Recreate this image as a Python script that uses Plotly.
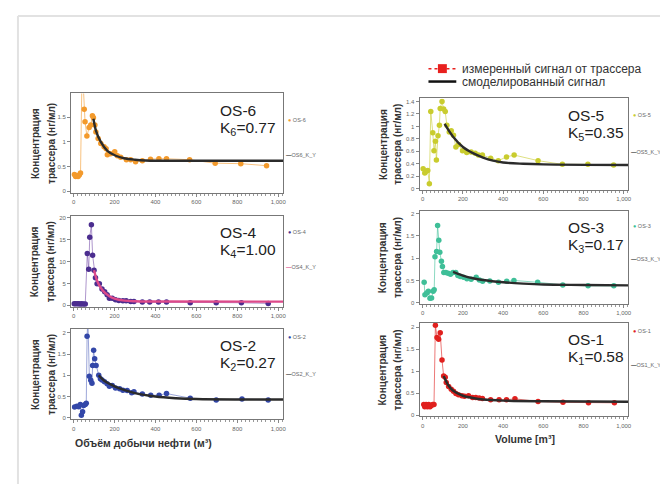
import plotly.graph_objects as go

W, H = 668, 484

# ---------------- data ----------------
# OS-6
os6_x = [4, 10, 16, 22, 28, 34, 42, 52, 56, 65, 76, 84, 92, 97, 104, 109, 120, 133, 149, 159, 165, 181, 201, 214, 230, 258, 279, 303, 336, 376, 417, 454, 567, 692, 817, 943]
os6_y = [0.34, 0.30, 0.32, 0.30, 0.33, 0.37, 2.6, 1.66, 1.41, 1.12, 1.29, 1.34, 1.53, 1.49, 1.34, 1.20, 1.07, 0.97, 0.90, 0.86, 0.74, 0.76, 0.80, 0.72, 0.69, 0.64, 0.64, 0.60, 0.62, 0.65, 0.66, 0.66, 0.64, 0.57, 0.56, 0.52]
os6_mx = [97, 110, 133, 165, 206, 246, 300, 350, 450, 1025]
os6_my = [1.47, 1.22, 1.00, 0.82, 0.72, 0.67, 0.64, 0.625, 0.62, 0.62]

# OS-4
os4_x = [3, 10, 18, 25, 33, 40, 48, 57, 67, 74, 79, 87, 93, 100, 107, 115, 126, 139, 152, 164, 175, 189, 205, 221, 241, 257, 279, 295, 336, 372, 415, 454, 570, 697, 820, 951]
os4_y = [0.35, 0.35, 0.35, 0.35, 0.3, 0.35, 0.3, 0.3, 11.8, 8.2, 15.5, 18.35, 11.4, 8.0, 6.3, 4.9, 4.9, 3.75, 3.1, 2.4, 1.65, 1.65, 1.3, 1.1, 1.05, 1.05, 0.9, 0.9, 0.75, 0.75, 0.75, 0.75, 0.6, 0.6, 0.6, 0.45]
os4_mx = [100, 115, 130, 150, 175, 200, 250, 300, 400, 1025]
os4_my = [8.0, 5.6, 4.2, 3.0, 2.1, 1.55, 1.08, 0.93, 0.87, 0.86]

# OS-2
os2_x = [5, 16, 25, 33, 38, 44, 49, 57, 62, 66, 70, 77, 84, 90, 93, 98, 103, 110, 123, 131, 139, 151, 164, 175, 189, 205, 225, 241, 262, 284, 295, 336, 377, 418, 454, 570, 697, 823, 951]
os2_y = [0.25, 0.27, 0.26, 0.31, 0.06, 0.14, 0.29, 0.31, 0.34, 1.92, 2.3, 0.98, 0.88, 0.81, 1.23, 1.59, 1.39, 1.23, 1.0, 0.92, 0.89, 0.85, 0.80, 0.74, 0.76, 0.70, 0.68, 0.65, 0.64, 0.59, 0.61, 0.56, 0.53, 0.53, 0.57, 0.46, 0.42, 0.44, 0.42]
os2_mx = [123, 150, 200, 250, 300, 400, 500, 600, 800, 1025]
os2_my = [1.0, 0.87, 0.74, 0.65, 0.58, 0.50, 0.46, 0.44, 0.43, 0.43]

# OS-5
os5_x = [2, 10, 17, 25, 33, 40, 50, 56, 63, 68, 76, 83, 87, 96, 104, 112, 120, 132, 142, 153, 165, 178, 198, 219, 241, 261, 277, 297, 338, 376, 417, 455, 574, 695, 822, 950]
os5_y = [0.32, 0.25, 0.28, 0.29, 0.08, 1.24, 0.90, 0.61, 0.76, 0.46, 0.85, 1.02, 1.29, 1.40, 1.28, 1.24, 1.02, 0.91, 0.93, 0.86, 0.67, 0.71, 0.61, 0.58, 0.59, 0.57, 0.54, 0.54, 0.49, 0.45, 0.51, 0.54, 0.45, 0.39, 0.39, 0.38]
os5_mx = [109, 150, 200, 250, 300, 350, 400, 500, 600, 1025]
os5_my = [1.04, 0.84, 0.67, 0.57, 0.50, 0.45, 0.42, 0.40, 0.39, 0.38]

# OS-3
os3_x = [7, 11, 20, 28, 36, 44, 52, 57, 61, 69, 74, 80, 85, 93, 98, 105, 115, 126, 138, 151, 164, 175, 187, 203, 220, 241, 266, 282, 298, 334, 377, 418, 454, 572, 697, 823, 951]
os3_y = [0.46, 0.18, 0.22, 0.26, 0.10, 0.11, 0.26, 0.29, 1.03, 1.15, 1.73, 1.40, 1.13, 0.93, 0.81, 0.68, 0.68, 0.66, 0.64, 0.68, 0.68, 0.61, 0.59, 0.57, 0.54, 0.53, 0.57, 0.51, 0.48, 0.49, 0.46, 0.48, 0.50, 0.46, 0.40, 0.38, 0.38]
os3_mx = [151, 200, 250, 300, 400, 500, 600, 800, 1025]
os3_my = [0.69, 0.61, 0.55, 0.51, 0.46, 0.43, 0.41, 0.40, 0.39]

# OS-1
os1_x = [5, 10, 17, 23, 30, 36, 43, 50, 56, 63, 71, 79, 87, 96, 104, 112, 117, 129, 142, 153, 165, 178, 195, 208, 228, 248, 264, 281, 297, 338, 380, 417, 459, 574, 698, 825, 954]
os1_y = [0.24, 0.19, 0.24, 0.19, 0.24, 0.19, 0.22, 0.24, 0.24, 2.04, 1.76, 1.72, 1.87, 1.25, 0.89, 0.86, 0.74, 0.65, 0.59, 0.54, 0.49, 0.46, 0.44, 0.43, 0.44, 0.40, 0.40, 0.39, 0.38, 0.35, 0.35, 0.35, 0.37, 0.31, 0.29, 0.28, 0.28]
os1_mx = [104, 130, 150, 200, 250, 300, 400, 600, 1025]
os1_my = [0.89, 0.66, 0.56, 0.44, 0.39, 0.355, 0.33, 0.315, 0.305]

names = ["OS-6", "OS-4", "OS-2", "OS-5", "OS-3", "OS-1"]
model_names = ["OS6_K_Y", "OS4_K_Y", "OS2_K_Y", "OS5_K_Y", "OS3_K_Y", "OS1_K_Y"]
k_labels = ["K<sub>6</sub>=0.77", "K<sub>4</sub>=1.00", "K<sub>2</sub>=0.27",
            "K<sub>5</sub>=0.35", "K<sub>3</sub>=0.17", "K<sub>1</sub>=0.58"]
y_ticks = [[0, 0.5, 1, 1.5], [0, 5, 10, 15, 20], [0, 0.5, 1, 1.5, 2],
           [0, 0.2, 0.4, 0.6, 0.8, 1, 1.2, 1.4], [0, 0.5, 1, 1.5, 2], [0, 0.5, 1, 1.5, 2]]
y_ranges = [[-0.03, 1.98], [-0.4, 20.4], [-0.04, 2.09], [-0.02, 1.45], [-0.03, 2.06], [-0.03, 2.09]]
x_ticks = [0, 200, 400, 600, 800, 1000]
x_tick_text = ["0", "200", "400", "600", "800", "1,000"]
legend_labels = ["измеренный сигнал от трассера", "смоделированный сигнал"]

series = [(os6_x, os6_y, os6_mx, os6_my), (os4_x, os4_y, os4_mx, os4_my), (os2_x, os2_y, os2_mx, os2_my),
          (os5_x, os5_y, os5_mx, os5_my), (os3_x, os3_y, os3_mx, os3_my), (os1_x, os1_y, os1_mx, os1_my)]

colors = ["#F39A2C", "#4B2D8F", "#3347A8", "#C9CC2E", "#3FBF98", "#E0201E"]
line_colors = ["rgba(243,154,44,0.6)", "rgba(120,80,170,0.6)", "rgba(60,80,180,0.5)",
               "rgba(200,204,46,0.6)", "rgba(63,191,152,0.6)", "rgba(224,32,30,0.6)"]
model_colors = ["#2b2b2b", "#DD4A8A", "#2b2b2b", "#2b2b2b", "#2b2b2b", "#2b2b2b"]

# ---------------- layout geometry (pixels) ----------------
def px(x):
    return x / W

def py(y):
    return 1 - y / H

# (left, right, top, bottom)
boxes = [(63.5, 277, 85, 185), (63.5, 277, 208, 300), (63.5, 277, 322, 413),
         (414, 624, 90, 182), (414, 624, 203, 297), (414, 624, 316, 410)]
x_ranges = [[-12, 1025]] * 3 + [[-16, 1023]] * 3

fig = go.Figure()
layout = dict(width=W, height=H, margin=dict(l=0, r=0, t=0, b=0),
              paper_bgcolor="white", plot_bgcolor="white", showlegend=False,
              font=dict(family="Liberation Sans, Arial, sans-serif", color="#333"))
annotations = []

for i in range(6):
    xs, ys, mx, my = series[i]
    ax = "" if i == 0 else str(i + 1)
    fig.add_trace(go.Scatter(x=xs, y=ys, mode="lines+markers", xaxis="x" + ax, yaxis="y" + ax,
                             line=dict(color=line_colors[i], width=1),
                             marker=dict(color=colors[i], size=5.5), showlegend=False))
    fig.add_trace(go.Scatter(x=mx, y=my, mode="lines", xaxis="x" + ax, yaxis="y" + ax,
                             line=dict(color=model_colors[i], width=2.4, shape="spline", smoothing=1.0),
                             showlegend=False))
    l, r, t, b = boxes[i]
    layout["xaxis" + ax] = dict(domain=[px(l), px(r)], anchor="y" + ax, range=x_ranges[i],
                                tickvals=x_ticks, ticktext=x_tick_text,
                                tickfont=dict(size=6, color="#666"), ticks="outside", ticklen=3,
                                tickcolor="#888", showline=True, linecolor="#777", linewidth=1,
                                mirror=True, showgrid=False, zeroline=False,
                                minor=dict(dtick=20, ticks="outside", ticklen=2, tickcolor="#999"))
    layout["yaxis" + ax] = dict(domain=[py(b), py(t)], anchor="x" + ax, range=y_ranges[i],
                                tickvals=y_ticks[i], tickfont=dict(size=6, color="#666"),
                                ticks="outside", ticklen=3, tickcolor="#888",
                                showline=True, linecolor="#777", linewidth=1, mirror=True,
                                showgrid=False, zeroline=False)
    # big label
    tx = l + 148 if i < 3 else l + 147
    annotations.append(dict(x=px(tx), y=py(t + 17), xref="paper", yref="paper", text=names[i],
                            showarrow=False, xanchor="left", yanchor="middle",
                            font=dict(size=15.5, color="#222", family="Liberation Sans, Arial")))
    annotations.append(dict(x=px(tx), y=py(t + 35), xref="paper", yref="paper", text=k_labels[i],
                            showarrow=False, xanchor="left", yanchor="middle",
                            font=dict(size=15.5, color="#222", family="Liberation Sans, Arial")))
    # small side legends
    off1 = [27, 16, 8, 17, 15, 8][i]
    off2 = [62, 52, 45, 54, 49, 42][i]
    annotations.append(dict(x=px(r + 3), y=py(t + off1), xref="paper", yref="paper",
                            text="<span style='color:%s'>●</span> %s" % (colors[i], names[i]),
                            showarrow=False, xanchor="left", yanchor="middle",
                            font=dict(size=5.5, color="#666")))
    annotations.append(dict(x=px(r + 1), y=py(t + off2), xref="paper", yref="paper",
                            text="<span style='color:%s'><b>—</b></span>%s" % (model_colors[i], model_names[i]),
                            showarrow=False, xanchor="left", yanchor="middle",
                            font=dict(size=5.5, color="#666")))
    # y-axis title (two lines)
    x1, x2 = (27, 43) if i < 3 else (377, 392)
    annotations.append(dict(x=px(x1), y=py((t + b) / 2), xref="paper", yref="paper",
                            text="<b>Концентрация</b>", textangle=-90,
                            showarrow=False, xanchor="center", yanchor="middle",
                            font=dict(size=10, color="#333")))
    annotations.append(dict(x=px(x2), y=py((t + b) / 2), xref="paper", yref="paper",
                            text="<b>трассера (нг/мл)</b>", textangle=-90,
                            showarrow=False, xanchor="center", yanchor="middle",
                            font=dict(size=10, color="#333")))

annotations.append(dict(x=px(136), y=py(437), xref="paper", yref="paper",
                        text="<b>Объём добычи нефти (м³)</b>", showarrow=False,
                        xanchor="center", yanchor="middle",
                        font=dict(size=10.5, color="#333")))
annotations.append(dict(x=px(520), y=py(433), xref="paper", yref="paper",
                        text="<b>Volume [m³]</b>", showarrow=False,
                        xanchor="center", yanchor="middle",
                        font=dict(size=10.5, color="#333")))

# top legend (text + symbols)
annotations.append(dict(x=px(455), y=py(60), xref="paper", yref="paper", text=legend_labels[0],
                        showarrow=False, xanchor="left", yanchor="middle",
                        font=dict(size=12, color="#333")))
annotations.append(dict(x=px(455), y=py(73), xref="paper", yref="paper", text=legend_labels[1],
                        showarrow=False, xanchor="left", yanchor="middle",
                        font=dict(size=12, color="#333")))

shapes = [
    dict(type="line", xref="paper", yref="paper", x0=px(10), x1=1, y0=py(7), y1=py(7),
         line=dict(color="#e2e2e2", width=2)),
    dict(type="line", xref="paper", yref="paper", x0=px(10), x1=px(10), y0=py(7), y1=0,
         line=dict(color="#e2e2e2", width=2)),
    # legend symbols
    dict(type="line", xref="paper", yref="paper", x0=px(423), x1=px(451), y0=py(60), y1=py(60),
         line=dict(color="#E8201E", width=1.5, dash="dot")),
    dict(type="rect", xref="paper", yref="paper", x0=px(432.5), x1=px(441.5), y0=py(64.5), y1=py(55.5),
         fillcolor="#E8201E", line=dict(width=0)),
    dict(type="line", xref="paper", yref="paper", x0=px(423), x1=px(451), y0=py(73), y1=py(73),
         line=dict(color="#111", width=2.5)),
]

layout["annotations"] = annotations
layout["shapes"] = shapes
fig.update_layout(**layout)
fig.write_html("out.html")
